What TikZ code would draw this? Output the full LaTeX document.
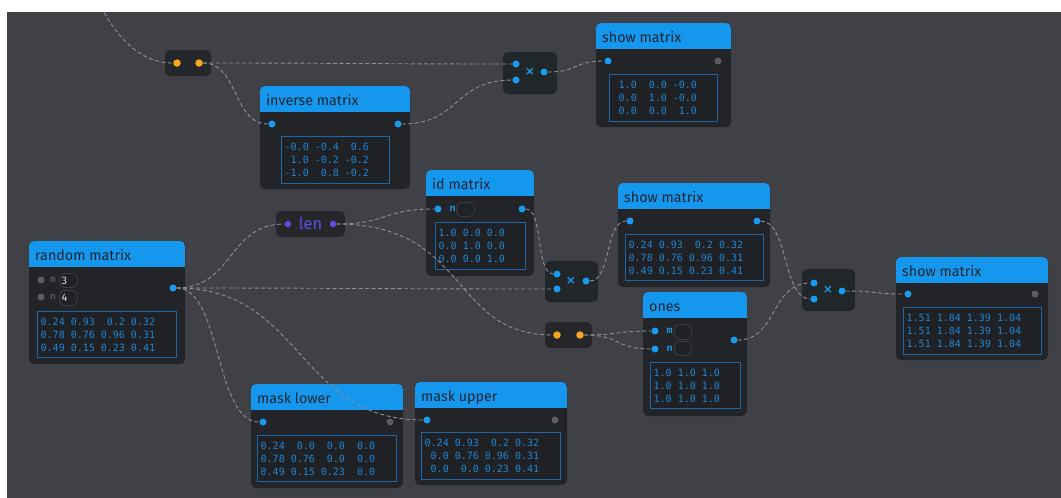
\documentclass[tikz,border=0pt]{standalone}
\usepackage{fontspec}
\setmainfont{Fira Sans}
\newfontfamily\matfont{DejaVu Sans Mono}
\newfontfamily\lblfont{Liberation Mono}
\newfontfamily\symfont{DejaVu Sans}
\usetikzlibrary{calc}

\definecolor{bgc}{HTML}{404146}
\definecolor{bodyc}{HTML}{222428}
\definecolor{hdrc}{HTML}{1597ED}
\definecolor{titlec}{HTML}{1C2530}
\definecolor{framec}{HTML}{1B66A6}
\definecolor{matbg}{HTML}{1F2125}
\definecolor{matc}{HTML}{1F86D4}
\definecolor{portc}{HTML}{179CF0}
\definecolor{grayc}{HTML}{5B5D61}
\definecolor{orangec}{HTML}{F7A51E}
\definecolor{lenc}{HTML}{5A4FE2}
\definecolor{mulc}{HTML}{212729}
\definecolor{pairc}{HTML}{252629}
\definecolor{lenbox}{HTML}{26272B}
\definecolor{fieldc}{HTML}{3A3C41}
\definecolor{fieldbg}{HTML}{202226}
\definecolor{wirec}{HTML}{8F8F92}
\definecolor{lblgray}{HTML}{6E6E70}

% drawing order: canvas, boxes, connectors, ports
\pgfdeclarelayer{canvas}
\pgfdeclarelayer{wires}
\pgfdeclarelayer{ports}
\pgfsetlayers{canvas,main,wires,ports}

\newcommand\mz{\hphantom{0}}

% panel: name, x1, y1, x2, y2, title
\newcommand\panel[6]{%
  \node[panelbox, anchor=north west, minimum width={(#4-#2)*1pt}, minimum height={(#5-#3)*1pt}] (#1) at (#2,#3) {};
  \node[paneltitle] (#1-title) at ({#2+6},{#3+19.5}) {#6};}
% matrix read-out: name, x1, y1, x2, y2, rows
\newcommand\matrixbox[6]{%
  \node[matframe, anchor=north west, minimum width={(#4-#2)*1pt}, minimum height={(#5-#3)*1pt}] (#1) at (#2,#3) {};
  \node[mattext] (#1-txt) at ([xshift=3.5pt]#1.west) {#6};}
% small input field: name, x1, y1, x2, y2, value
\newcommand\field[6]{%
  \node[field, anchor=north west, minimum width={(#4-#2)*1pt}, minimum height={(#5-#3)*1pt}] (#1) at (#2,#3) {};
  \node[fieldtext] (#1-val) at ([xshift=2.5pt]#1.west) {#6};}
% operator box: name, fill, x1, y1, x2, y2
\newcommand\opbox[6]{%
  \node[opnode, fill=#2, anchor=north west, minimum width={(#5-#3)*1pt}, minimum height={(#6-#4)*1pt}] (#1) at (#3,#4) {};}
% port dot: style, name, x, y
\newcommand\port[4]{\begin{pgfonlayer}{ports}\node[#1] (#2) at (#3,#4) {};\end{pgfonlayer}}
% connector with horizontal ends: from, to, out distance, in distance
\newcommand\wire[4]{\draw[wire] (#1) to[out=0, in=180, out distance=#3, in distance=#4] (#2);}

\tikzset{
  panelbox/.style={rectangle, rounded corners=5pt, fill=bodyc, inner sep=0pt, outer sep=0pt,
    path picture={\fill[hdrc, sharp corners] (path picture bounding box.north west) rectangle ([yshift=-26pt]path picture bounding box.north east);}},
  paneltitle/.style={anchor=base west, inner sep=0pt, text=titlec, font=\fontsize{14.3}{16}\selectfont},
  matframe/.style={rectangle, draw=framec, line width=0.8pt, fill=matbg, inner sep=0pt},
  mattext/.style={anchor=west, inner sep=0pt, align=left, text=matc, font=\matfont\fontsize{10}{13}\selectfont},
  field/.style={rectangle, rounded corners=5pt, draw=fieldc, line width=0.8pt, fill=fieldbg, inner sep=0pt},
  fieldtext/.style={anchor=west, inner sep=0pt, text=white!85!black, font=\fontsize{11}{12}\selectfont},
  bport/.style={circle, fill=portc, minimum size=7pt, inner sep=0pt},
  gport/.style={bport, fill=grayc},
  oport/.style={bport, fill=orangec, minimum size=7.5pt},
  lport/.style={bport, fill=lenc, minimum size=6.5pt},
  opnode/.style={rectangle, rounded corners=5pt, inner sep=0pt, outer sep=0pt},
  times/.style={inner sep=0pt, text=portc, font=\symfont\bfseries\fontsize{12}{12}\selectfont},
  blbl/.style={inner sep=0pt, text=portc, font=\lblfont\bfseries\fontsize{10}{10}\selectfont},
  glbl/.style={inner sep=0pt, text=lblgray, font=\lblfont\fontsize{9.5}{10}\selectfont},
  wire/.style={draw=wirec, line width=0.9pt, dash pattern=on 4pt off 2.5pt},
}

\begin{document}
\begin{tikzpicture}[x=1pt, y=-1pt]
\begin{pgfonlayer}{canvas}
  \fill[white] (0,0) rectangle (1061,498);
  \fill[bgc] (7,12) rectangle (1061,498);
\end{pgfonlayer}
\useasboundingbox (0,0) rectangle (1061,498);

% ---------- operator boxes ----------
\opbox{pairA}{pairc}{165}{50}{211}{76}
\port{oport}{pairA-l}{177}{63}
\port{oport}{pairA-r}{199}{63}

\opbox{mulA}{mulc}{503}{52}{557}{94}
\port{bport}{mulA-i1}{516}{64}
\port{bport}{mulA-i2}{516}{80}
\node[times] (mulA-x) at (530,72) {×};
\port{bport}{mulA-o}{544}{72}

\opbox{mulB}{mulc}{545}{261}{598}{302}
\port{bport}{mulB-i1}{557}{274}
\port{bport}{mulB-i2}{557}{289}
\node[times] (mulB-x) at (571,281) {×};
\port{bport}{mulB-o}{586}{281}

\opbox{pairB}{pairc}{545}{322}{592}{348}
\port{oport}{pairB-l}{557}{335}
\port{oport}{pairB-r}{580}{335}

\opbox{mulC}{mulc}{802}{269}{855}{311}
\port{bport}{mulC-i1}{814}{283}
\port{bport}{mulC-i2}{814}{299}
\node[times] (mulC-x) at (828,290) {×};
\port{bport}{mulC-o}{842}{291}

\opbox{len}{lenbox}{276}{211}{345}{237}
\port{lport}{len-l}{288}{224}
\port{lport}{len-r}{333}{224}
\node[anchor=base, inner sep=0pt, text=lenc, font=\fontsize{16.5}{17}\selectfont] (len-t) at (310.5,229.5) {len};

% ---------- panels ----------
\panel{inv}{260}{86}{410}{189}{inverse matrix}
\port{bport}{inv-i}{272}{124}
\port{bport}{inv-o}{398}{124}
\matrixbox{inv-m}{281}{136}{389}{183}{-0.0 -0.4~~0.6\\\mz1.0 -0.2 -0.2\\-1.0~~0.8 -0.2}

\panel{showA}{596}{23}{731}{127}{show matrix}
\port{bport}{showA-i}{608}{61}
\port{gport}{showA-o}{718}{61}
\matrixbox{showA-m}{609}{74}{717}{121}{\mz1.0~~0.0 -0.0\\\mz0.0~~1.0 -0.0\\\mz0.0~~0.0~~1.0}

\panel{idm}{426}{170}{534}{276}{id matrix}
\port{bport}{idm-n}{438}{209}
\node[blbl] (idm-nl) at (452.5,208.5) {n};
\field{idm-f}{456}{202}{474}{216}{}
\port{bport}{idm-o}{522}{209}
\matrixbox{idm-m}{435}{222}{525}{269}{1.0 0.0 0.0\\0.0 1.0 0.0\\0.0 0.0 1.0}

\panel{showB}{618}{183}{770}{287}{show matrix}
\port{bport}{showB-i}{630}{221}
\port{bport}{showB-o}{757}{221}
\matrixbox{showB-m}{625}{234}{763}{280}{0.24 0.93~~0.2 0.32\\0.78 0.76 0.96 0.31\\0.49 0.15 0.23 0.41}

\panel{ones}{643}{292}{747}{416}{ones}
\port{bport}{ones-m}{655}{331}
\port{bport}{ones-n}{655}{349}
\node[blbl] (ones-ml) at (669.5,330.5) {m};
\node[blbl] (ones-nl) at (669.5,348.5) {n};
\field{ones-fm}{674}{324}{691}{339}{}
\field{ones-fn}{674}{341}{691}{355}{}
\port{bport}{ones-o}{734}{340}
\matrixbox{ones-mx}{650}{362}{740}{408}{1.0 1.0 1.0\\1.0 1.0 1.0\\1.0 1.0 1.0}

\panel{showC}{896}{257}{1048}{360}{show matrix}
\port{bport}{showC-i}{908}{294}
\port{gport}{showC-o}{1035}{294}
\matrixbox{showC-m}{903}{307}{1041}{354}{1.51 1.84 1.39 1.04\\1.51 1.84 1.39 1.04\\1.51 1.84 1.39 1.04}

\panel{mlow}{251}{384}{403}{488}{mask lower}
\port{bport}{mlow-i}{263}{422}
\port{gport}{mlow-o}{390}{422}
\matrixbox{mlow-m}{257}{435}{396}{481}{0.24~~0.0~~0.0~~0.0\\0.78 0.76~~0.0~~0.0\\0.49 0.15 0.23~~0.0}

\panel{mup}{415}{382}{567}{485}{mask upper}
\port{bport}{mup-i}{427}{420}
\port{gport}{mup-o}{555}{420}
\matrixbox{mup-m}{421}{432}{560}{479}{0.24 0.93~~0.2 0.32\\\mz0.0 0.76 0.96 0.31\\\mz0.0~~0.0 0.23 0.41}

\panel{rand}{29}{241}{185}{364}{random matrix}
\port{gport}{rand-m}{41}{280}
\port{gport}{rand-n}{41}{297}
\node[glbl] (rand-ml) at (53,279.5) {m};
\node[glbl] (rand-nl) at (53,296.5) {n};
\field{rand-fm}{59}{273}{77}{287}{3}
\field{rand-fn}{59}{290}{77}{305}{4}
\port{bport}{rand-o}{173}{288}
\matrixbox{rand-mx}{37}{311}{176}{357}{0.24 0.93~~0.2 0.32\\0.78 0.76 0.96 0.31\\0.49 0.15 0.23 0.41}

\coordinate (offsrc) at (101,7);

% ---------- connectors ----------
\begin{pgfonlayer}{wires}
\begin{scope}
  \clip (7,12) rectangle (1061,498);
  \draw[wire] (offsrc) .. controls (118,38) and (140,63) .. (pairA-l);
  \wire{pairA-r}{mulA-i1}{150pt}{150pt}
  \wire{pairA-r}{inv-i}{36pt}{36pt}
  \wire{inv-o}{mulA-i2}{59pt}{59pt}
  \wire{mulA-o}{showA-i}{32pt}{32pt}
  \wire{rand-o}{len-l}{57pt}{57pt}
  \wire{rand-o}{mulB-i2}{190pt}{190pt}
  \wire{rand-o}{mlow-i}{45pt}{45pt}
  \wire{rand-o}{mup-i}{127pt}{127pt}
  \wire{len-r}{idm-n}{52pt}{52pt}
  \wire{len-r}{pairB-l}{134pt}{104pt}
  \wire{idm-o}{mulB-i1}{18pt}{18pt}
  \wire{mulB-o}{showB-i}{22pt}{22pt}
  \wire{pairB-r}{ones-m}{37pt}{37pt}
  \wire{pairB-r}{ones-n}{37pt}{37pt}
  \wire{showB-o}{mulC-i2}{28pt}{28pt}
  \wire{ones-o}{mulC-i1}{40pt}{40pt}
  \wire{mulC-o}{showC-i}{33pt}{33pt}
\end{scope}
\end{pgfonlayer}
\end{tikzpicture}
\end{document}
